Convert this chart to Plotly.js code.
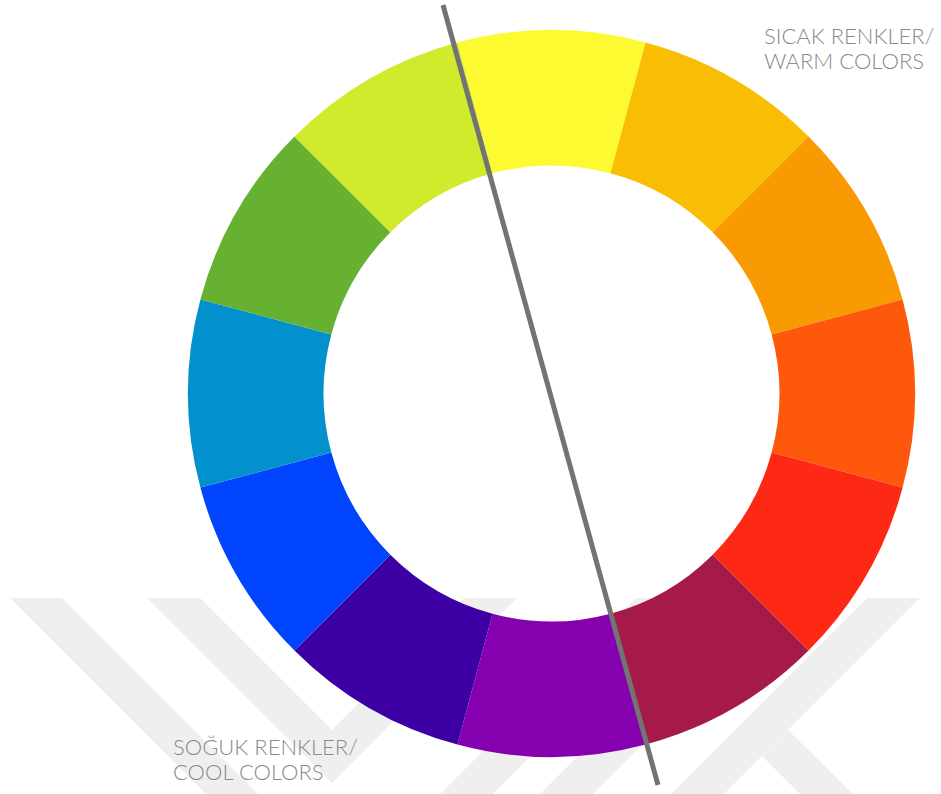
<!DOCTYPE html>
<html>
<head>
<meta charset="utf-8">
<script src="https://cdn.plot.ly/plotly-3.0.1.min.js"></script>
<style>
  html, body { margin: 0; padding: 0; background: #ffffff; }
  #chart { width: 941px; height: 794px; }
</style>
</head>
<body>
<div id="chart"></div>
<script>
// ---- data ----
const wheelLabels = ['Sarı', 'Sarı-Turuncu', 'Turuncu', 'Kırmızı-Turuncu', 'Kırmızı', 'Kırmızı-Mor',
                     'Mor', 'Mavi-Mor', 'Mavi', 'Mavi-Yeşil', 'Yeşil', 'Sarı-Yeşil'];
const wheelValues = [1, 1, 1, 1, 1, 1, 1, 1, 1, 1, 1, 1];
const wheelColors = ['#FEFA32', '#F9BD03', '#F99A02', '#FD580B', '#FE2914', '#A61A4A',
                     '#8501AF', '#3D00A5', '#0044FE', '#0291CC', '#66B032', '#D1EA2C'];
const warmLines = ['SICAK RENKLER/', 'WARM COLORS'];
const coolLines = ['SOĞUK RENKLER/', 'COOL COLORS'];

// decorative divider (page pixels)
const dividerX = [443, 658];
const dividerY = [5, 785];

// faint background watermark polygons (page pixels)
const watermark = [
  [[10,598],[62,598],[258,794],[206,794]],
  [[147,598],[200,598],[332,730],[464,598],[517,598],[332,783]],
  [[440,794],[493,794],[689,598],[636,598]],
  [[540,794],[593,794],[789,598],[736,598]],
  [[867,598],[920,598],[724,794],[671,794]],
  [[788,730],[853,794],[800,794],[762,756]]
];

const W = 941, H = 794;
const px = x => x / W;
const py = y => 1 - y / H;

const shapes = watermark.map(poly => ({
  type: 'path',
  xref: 'paper', yref: 'paper',
  path: 'M' + poly.map(p => px(p[0]) + ',' + py(p[1])).join(' L') + ' Z',
  fillcolor: '#efefef',
  line: { width: 0 },
  layer: 'below'
}));
shapes.push({
  type: 'line', xref: 'paper', yref: 'paper',
  x0: px(dividerX[0]), y0: py(dividerY[0]),
  x1: px(dividerX[1]), y1: py(dividerY[1]),
  line: { color: '#737373', width: 5 },
  layer: 'above'
});

const textFont = { family: 'Lato, "Open Sans", sans-serif', size: 22, color: '#8a8a8a', weight: 300 };
const annotations = [];
warmLines.forEach((t, i) => annotations.push({
  text: t, showarrow: false, xref: 'paper', yref: 'paper',
  x: px(762), y: py(36 + i * 24), xanchor: 'left', yanchor: 'middle', font: textFont
}));
coolLines.forEach((t, i) => annotations.push({
  text: t, showarrow: false, xref: 'paper', yref: 'paper',
  x: px(171), y: py(746 + i * 25), xanchor: 'left', yanchor: 'middle', font: textFont
}));

const trace = {
  type: 'pie',
  labels: wheelLabels,
  values: wheelValues,
  marker: { colors: wheelColors, line: { width: 0 } },
  hole: 0.627,
  sort: false,
  direction: 'clockwise',
  rotation: -15,
  textinfo: 'none',
  hoverinfo: 'label',
  showlegend: false,
  domain: { x: [188 / W, 915 / W], y: [1 - 757 / H, 1 - 30 / H] }
};

const layout = {
  width: W, height: H,
  margin: { l: 0, r: 0, t: 0, b: 0, pad: 0 },
  paper_bgcolor: '#ffffff',
  plot_bgcolor: '#ffffff',
  showlegend: false,
  shapes: shapes,
  annotations: annotations
};

Plotly.newPlot('chart', [trace], layout, { staticPlot: true, displayModeBar: false });
</script>
</body>
</html>
